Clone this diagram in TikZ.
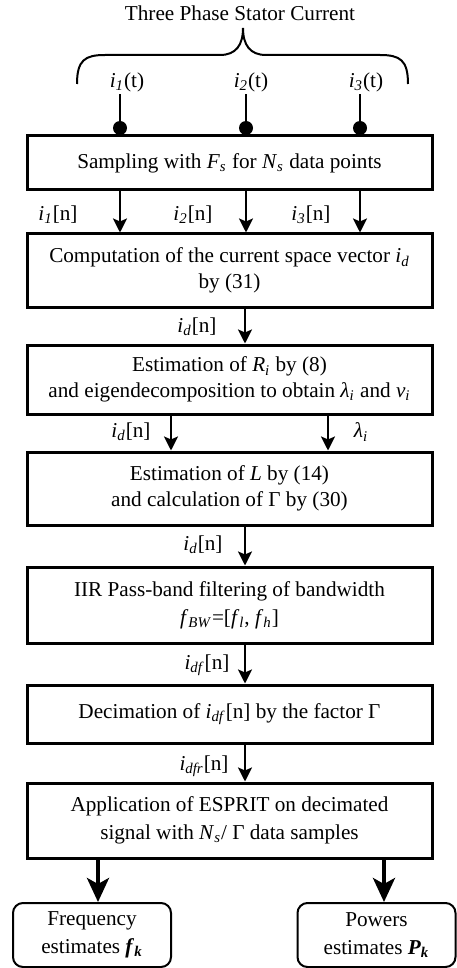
\documentclass[tikz,border=0pt]{standalone}
\usepackage{fontspec}
\setmainfont{Liberation Serif}
\usepackage{tikz}
\usetikzlibrary{arrows.meta}
\newcommand{\vsub}[2]{\textit{#1}\textsubscript{\textit{#2}}}
\newcommand{\bsub}[2]{\textbf{\textit{#1}}\textsubscript{\textbf{\textit{#2}}}}
\tikzset{
  procbox/.style={draw, line width=1.5pt, minimum width=202.5pt, align=center, inner sep=2pt},
  endbox/.style={draw, line width=1pt, rounded corners=5pt, minimum width=79pt, minimum height=32pt, align=center},
  flow/.style={-{Stealth[length=7pt,width=7pt,inset=1.5pt]}, line width=1.2pt},
  bigflow/.style={-{Stealth[length=12pt,width=11pt,inset=3pt]}, line width=2pt},
  tap/.style={shape=circle, fill, inner sep=0pt, minimum size=7pt},
  lbl/.style={inner sep=1pt}
}

\begin{document}
\begin{tikzpicture}[x=0.5pt, y=-0.5pt, font=\fontsize{10.6}{12.8}\selectfont]
\useasboundingbox (0,0) rectangle (456,968);
\node at (240, 13) (title) {Three Phase Stator Current};
\draw [line width=1pt] (77,84) .. controls (77,60) and (85,55) .. (105,55) -- (220,55)
  .. controls (236,55) and (243,45) .. (243,28) .. controls (243,45) and (250,55) .. (266,55)
  -- (380,55) .. controls (400,55) and (408,60) .. (408,84);
\node at (127, 82) [lbl] (it1) {\vsub{i}{1}(t)};
\node at (251, 82) [lbl] (it2) {\vsub{i}{2}(t)};
\node at (366, 82) [lbl] (it3) {\vsub{i}{3}(t)};
\node at (120, 128) [tap] (d1) {};
\node at (246, 128) [tap] (d2) {};
\node at (360, 128) [tap] (d3) {};
\draw [line width=1pt] (it1.south -| d1) to (d1);
\draw [line width=1pt] (it2.south -| d2) to (d2);
\draw [line width=1pt] (it3.south -| d3) to (d3);
\node at (229.5, 163) [procbox, minimum height=27pt] (sample) {Sampling with \vsub{F}{s} for \vsub{N}{s} data points};
\node at (229.5, 270.5) [procbox, minimum height=36.5pt] (space) {Computation of the current space vector \vsub{i}{d}\\by (31)};
\node at (229.5, 379.5) [procbox, minimum height=34.5pt] (eigen) {Estimation of \vsub{R}{i} by (8)\\and eigendecomposition to obtain \vsub{λ}{i} and \vsub{v}{i}};
\node at (229.5, 488.5) [procbox, minimum height=36.5pt] (lgamma) {Estimation of \textit{L} by (14)\\and calculation of Γ by (30)};
\node at (229.5, 605) [procbox, minimum height=38pt] (filter) {IIR Pass-band filtering of bandwidth\\[1pt]\vsub{f}{BW}=[\vsub{f}{l}, \vsub{f}{h}]};
\node at (229.5, 714) [procbox, minimum height=29pt] (decim) {Decimation of \vsub{i}{df}[n] by the factor Γ};
\node at (229.5, 820.5) [procbox, minimum height=37.5pt] (esprit) {Application of ESPRIT on decimated\\[1pt]signal with \vsub{N}{s}/ Γ data samples};
\node at (92, 935) [endbox] (freq) {Frequency\\[1pt]estimates \bsub{f}{k}};
\node at (376.5, 935) [endbox] (power) {Powers\\[1pt]estimates \bsub{P}{k}};
\coordinate (cm) at (245, 0);
\coordinate (ca) at (171, 0);
\coordinate (cb) at (328, 0);
\coordinate (cl) at (98, 0);
\coordinate (cr) at (384, 0);
\draw [flow] (sample.south -| d1) to (space.north -| d1);
\draw [flow] (sample.south -| d2) to (space.north -| d2);
\draw [flow] (sample.south -| d3) to (space.north -| d3);
\node at (58, 215) [lbl] (in1) {\vsub{i}{1}[n]};
\node at (193, 215) [lbl] (in2) {\vsub{i}{2}[n]};
\node at (311, 215) [lbl] (in3) {\vsub{i}{3}[n]};
\draw [flow] (space.south -| cm) to (eigen.north -| cm);
\node at (197, 327) [lbl] (id1) {\vsub{i}{d}[n]};
\draw [flow] (eigen.south -| ca) to (lgamma.north -| ca);
\draw [flow] (eigen.south -| cb) to (lgamma.north -| cb);
\node at (131, 432) [lbl] (id2) {\vsub{i}{d}[n]};
\node at (361, 432) [lbl] (lam) {\vsub{λ}{i}};
\draw [flow] (lgamma.south -| cm) to (filter.north -| cm);
\node at (203, 545) [lbl] (id3) {\vsub{i}{d}[n]};
\draw [flow] (filter.south -| cm) to (decim.north -| cm);
\node at (207, 665) [lbl] (idf) {\vsub{i}{df}[n]};
\draw [flow] (decim.south -| cm) to (esprit.north -| cm);
\node at (204, 766) [lbl] (idfr) {\vsub{i}{dfr}[n]};
\draw [bigflow] (esprit.south -| cl) to (freq.north -| cl);
\draw [bigflow] (esprit.south -| cr) to (power.north -| cr);
\end{tikzpicture}
\end{document}
